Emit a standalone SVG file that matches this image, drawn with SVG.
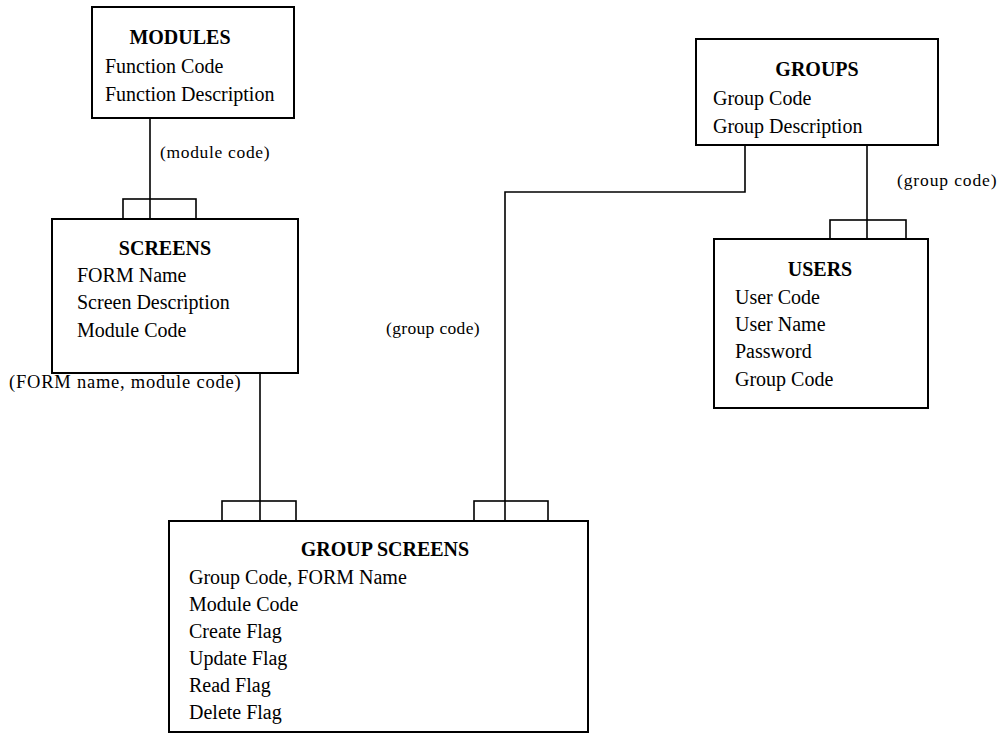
<svg xmlns="http://www.w3.org/2000/svg" width="1004" height="734" viewBox="0 0 1004 734">
  <style>
    .box { fill: #ffffff; stroke: #000000; stroke-width: 2; }
    .tab { fill: #ffffff; stroke: #000000; stroke-width: 1.6; }
    .line { fill: none; stroke: #000000; stroke-width: 1.6; }
    .title { font-family: "Liberation Serif", "Times New Roman", serif; font-size: 20px; font-weight: bold; fill: #000; text-anchor: middle; }
    .attr { font-family: "Liberation Serif", "Times New Roman", serif; font-size: 20px; fill: #000; }
    .lbl { font-family: "Liberation Serif", "Times New Roman", serif; font-size: 17.5px; letter-spacing: 0.4px; fill: #000; }
  </style>
  <rect width="1004" height="734" fill="#ffffff"/>

  <!-- relationships between tables -->
  <g id="connectors">
    <line class="line" x1="150" y1="118" x2="150" y2="219"/>
    <line class="line" x1="260" y1="373" x2="260" y2="521"/>
    <polyline class="line" points="745,145 745,192 505,192 505,521"/>
    <line class="line" x1="867" y1="145" x2="867" y2="239"/>
    <text class="lbl" x="160" y="158" textLength="110" lengthAdjust="spacing">(module code)</text>
    <text class="lbl" x="9" y="388" style="font-size:18.5px" textLength="232" lengthAdjust="spacing">(FORM name, module code)</text>
    <text class="lbl" x="386" y="334" textLength="94" lengthAdjust="spacing">(group code)</text>
    <text class="lbl" x="897" y="186" textLength="100" lengthAdjust="spacing">(group code)</text>
  </g>

  <g id="modules">
    <rect class="box" x="92" y="7" width="202" height="111"/>
    <text class="title" x="180" y="44">MODULES</text>
    <text class="attr" x="105" y="73">Function Code</text>
    <text class="attr" x="105" y="101">Function Description</text>
  </g>

  <g id="screens">
    <rect class="tab" x="123" y="199" width="73" height="20"/>
    <line class="line" x1="150" y1="199" x2="150" y2="219"/>
    <rect class="box" x="52" y="219" width="246" height="154"/>
    <text class="title" x="165" y="255">SCREENS</text>
    <text class="attr" x="77" y="282">FORM Name</text>
    <text class="attr" x="77" y="309">Screen Description</text>
    <text class="attr" x="77" y="337">Module Code</text>
  </g>

  <g id="groups">
    <rect class="box" x="696" y="39" width="242" height="106"/>
    <text class="title" x="817" y="76">GROUPS</text>
    <text class="attr" x="713" y="105">Group Code</text>
    <text class="attr" x="713" y="133">Group Description</text>
  </g>

  <g id="users">
    <rect class="tab" x="830" y="220" width="76" height="19"/>
    <line class="line" x1="867" y1="220" x2="867" y2="239"/>
    <rect class="box" x="714" y="239" width="214" height="169"/>
    <text class="title" x="820" y="276">USERS</text>
    <text class="attr" x="735" y="304">User Code</text>
    <text class="attr" x="735" y="331">User Name</text>
    <text class="attr" x="735" y="358">Password</text>
    <text class="attr" x="735" y="386">Group Code</text>
  </g>

  <g id="group-screens">
    <rect class="tab" x="222" y="501" width="74" height="20"/>
    <line class="line" x1="260" y1="501" x2="260" y2="521"/>
    <rect class="tab" x="474" y="501" width="74" height="20"/>
    <line class="line" x1="505" y1="501" x2="505" y2="521"/>
    <rect class="box" x="169" y="521" width="419" height="211"/>
    <text class="title" x="385" y="556">GROUP SCREENS</text>
    <text class="attr" x="189" y="584">Group Code, FORM Name</text>
    <text class="attr" x="189" y="611">Module Code</text>
    <text class="attr" x="189" y="638">Create Flag</text>
    <text class="attr" x="189" y="665">Update Flag</text>
    <text class="attr" x="189" y="692">Read Flag</text>
    <text class="attr" x="189" y="719">Delete Flag</text>
  </g>
</svg>
